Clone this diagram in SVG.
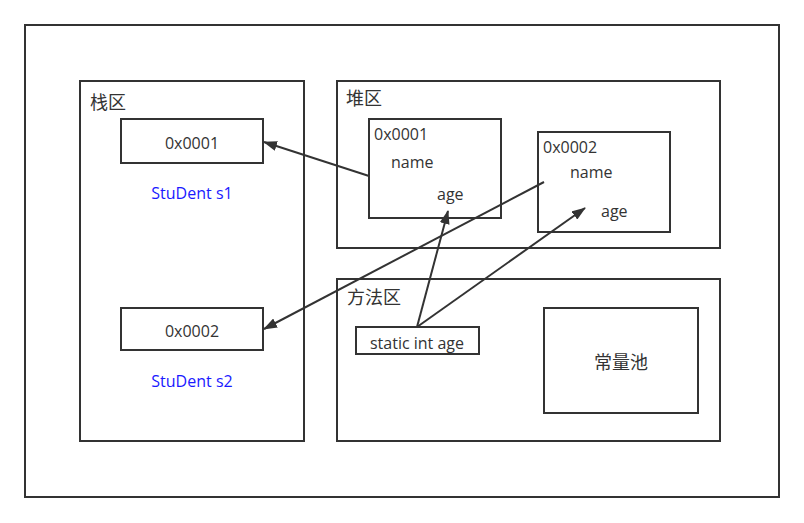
<svg xmlns="http://www.w3.org/2000/svg" width="804" height="523" viewBox="0 0 804 523">
<defs>
<marker id="ah" viewBox="0 0 14 10" refX="13" refY="5" markerWidth="14" markerHeight="10" markerUnits="userSpaceOnUse" orient="auto">
<path d="M0,0 L14,5 L0,10 z" fill="#333"/>
</marker>
<style>
rect{fill:none;stroke:#333;stroke-width:2}
text{font-family:"Open Sans","Noto Sans CJK SC",sans-serif;font-size:16px;fill:#333}
.z{font-size:18px}
.c{text-anchor:middle}
.b{fill:#1a1aff}
.e{stroke:#333;stroke-width:2;fill:none;marker-end:url(#ah)}
</style>
</defs>
<rect x="0" y="0" width="804" height="523" style="fill:#fff;stroke:none"/>
<g id="outer"><rect x="25" y="25" width="754" height="472"/></g>
<g id="stack">
<rect x="80" y="81" width="224" height="360"/>
<text x="90" y="109" class="z">栈区</text>
</g>
<g id="s1">
<rect x="121" y="119" width="142" height="44"/>
<text x="192" y="149" class="c">0x0001</text>
<text x="192" y="199" class="c b">StuDent s1</text>
</g>
<g id="s2">
<rect x="121" y="308" width="142" height="42"/>
<text x="192" y="337" class="c">0x0002</text>
<text x="192" y="387" class="c b">StuDent s2</text>
</g>
<g id="heap">
<rect x="337" y="81" width="383" height="167"/>
<text x="346" y="105" class="z">堆区</text>
</g>
<g id="obj1">
<rect x="369" y="119" width="132" height="99"/>
<text x="374" y="140">0x0001</text>
<text x="391" y="168">name</text>
<text x="437" y="200">age</text>
</g>
<g id="obj2">
<rect x="538" y="132" width="132" height="100"/>
<text x="543" y="153">0x0002</text>
<text x="570" y="178">name</text>
<text x="601" y="217">age</text>
</g>
<g id="method">
<rect x="337" y="279" width="383" height="162"/>
<text x="347" y="304" class="z">方法区</text>
</g>
<g id="static">
<rect x="356" y="327" width="123" height="27"/>
<text x="417" y="349" class="c">static int age</text>
</g>
<g id="pool">
<rect x="544" y="308" width="154" height="105"/>
<text x="621" y="369" class="c z">常量池</text>
</g>
<g id="connectors">
<line x1="369" y1="176" x2="264" y2="142" class="e"/>
<line x1="544" y1="182" x2="264" y2="329" class="e"/>
<line x1="417" y1="327" x2="448" y2="211" class="e"/>
<line x1="417" y1="327" x2="585" y2="208" class="e"/>
</g>
</svg>
